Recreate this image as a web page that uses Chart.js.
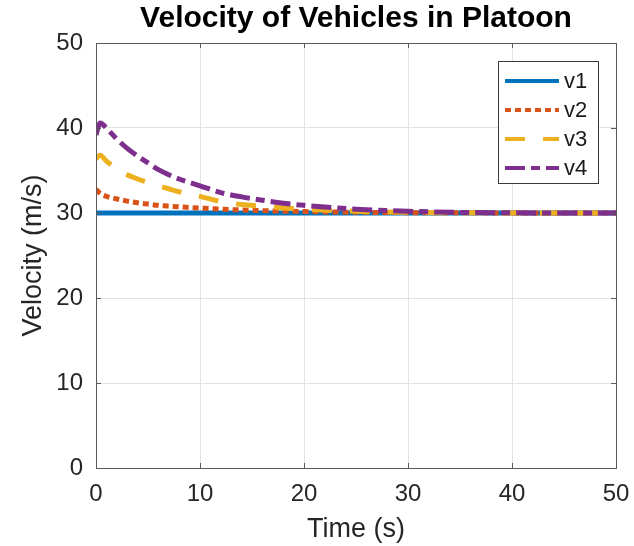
<!DOCTYPE html>
<html>
<head>
<meta charset="utf-8">
<script src="https://cdn.jsdelivr.net/npm/chart.js@4"></script>
<style>
  html, body { margin: 0; padding: 0; background: #fff; }
  #wrap { width: 634px; height: 546px; }
</style>
</head>
<body>
<div id="wrap"><canvas id="c" width="634" height="546"></canvas></div>
<script>
// ---- data ----
const time = [0, 0.4, 1, 2, 3, 4, 5, 6, 7, 8, 9, 10, 12, 14, 16, 18, 20, 22, 25, 28, 30, 35, 40, 45, 50];
const v1 = [30, 30, 30, 30, 30, 30, 30, 30, 30, 30, 30, 30, 30, 30, 30, 30, 30, 30, 30, 30, 30, 30, 30, 30, 30];
const v2 = [32.8, 32.3, 31.95, 31.65, 31.4, 31.2, 31.05, 30.9, 30.8, 30.72, 30.65, 30.58, 30.45, 30.36, 30.28, 30.22, 30.17, 30.13, 30.09, 30.06, 30.04, 30.02, 30.01, 30, 30];
const v3 = [36.4, 36.8, 36.1, 35.2, 34.5, 34.0, 33.6, 33.2, 32.85, 32.5, 32.2, 31.95, 31.35, 31.0, 30.8, 30.6, 30.45, 30.33, 30.2, 30.12, 30.08, 30.03, 30.01, 30, 30];
const v4 = [39.2, 40.6, 40.0, 38.7, 37.6, 36.7, 35.9, 35.1, 34.5, 34.0, 33.6, 33.2, 32.4, 31.9, 31.5, 31.15, 30.9, 30.7, 30.45, 30.28, 30.2, 30.07, 30.02, 30.01, 30];
const seriesNames = ['v1', 'v2', 'v3', 'v4'];
const xTicks = [0, 10, 20, 30, 40, 50];
const yTicks = [0, 10, 20, 30, 40, 50];
const titleText = 'Velocity of Vehicles in Platoon';
const xLabel = 'Time (s)';
const yLabel = 'Velocity (m/s)';

// ---- styles ----
const colors = ['#0072BD', '#D95319', '#EDB120', '#7E2F8E'];
const dashes = [[], [6, 4], [20, 18], [20, 6, 9, 6]];
const FONT = "'Liberation Sans', Arial, Helvetica, sans-serif";
const values = [v1, v2, v3, v4];

const datasets = values.map((vals, i) => ({
  label: seriesNames[i],
  data: time.map((t, k) => ({ x: t, y: vals[k] })),
  borderColor: colors[i],
  backgroundColor: colors[i],
  borderWidth: 5,
  borderDash: dashes[i],
  borderCapStyle: 'butt',
  pointRadius: 0,
  cubicInterpolationMode: 'monotone',
  fill: false,
  clip: 0,
  order: 4 - i
}));

const framePlugin = {
  id: 'frame',
  afterDatasetsDraw(chart) {
    const { ctx, chartArea: a, scales } = chart;
    ctx.save();
    ctx.strokeStyle = '#5a5a5a';
    ctx.lineWidth = 1;
    const tl = 5;
    ctx.beginPath();
    xTicks.forEach(v => {
      const px = Math.round(scales.x.getPixelForValue(v)) + 0.5;
      ctx.moveTo(px, a.bottom); ctx.lineTo(px, a.bottom - tl);
      ctx.moveTo(px, a.top); ctx.lineTo(px, a.top + tl);
    });
    yTicks.forEach(v => {
      const py = Math.round(scales.y.getPixelForValue(v)) + 0.5;
      ctx.moveTo(a.left, py); ctx.lineTo(a.left + tl, py);
      ctx.moveTo(a.right, py); ctx.lineTo(a.right - tl, py);
    });
    ctx.stroke();
    ctx.strokeRect(Math.round(a.left) + 0.5, Math.round(a.top) + 0.5,
                   Math.round(a.right - a.left), Math.round(a.bottom - a.top));
    ctx.restore();
  }
};

const legendPlugin = {
  id: 'boxLegend',
  afterDraw(chart) {
    const { ctx, chartArea: a } = chart;
    const bx = a.right - 118, by = a.top + 18, bw = 100, bh = 122;
    ctx.save();
    ctx.fillStyle = '#fff';
    ctx.fillRect(bx, by, bw, bh);
    ctx.strokeStyle = '#3a3a3a';
    ctx.lineWidth = 1;
    ctx.strokeRect(Math.round(bx) + 0.5, Math.round(by) + 0.5, bw, bh);
    chart.data.datasets.forEach((ds, i) => {
      const y = by + 20 + i * 29;
      ctx.beginPath();
      ctx.strokeStyle = ds.borderColor;
      ctx.lineWidth = 4;
      ctx.lineCap = 'butt';
      ctx.setLineDash(ds.borderDash);
      ctx.moveTo(bx + 7, y);
      ctx.lineTo(bx + 61, y);
      ctx.stroke();
      ctx.setLineDash([]);
      ctx.fillStyle = '#1a1a1a';
      ctx.font = '22px ' + FONT;
      ctx.textBaseline = 'middle';
      ctx.textAlign = 'left';
      ctx.fillText(ds.label, bx + 66, y + 1);
    });
    ctx.restore();
  }
};

new Chart(document.getElementById('c'), {
  type: 'line',
  data: { datasets },
  options: {
    responsive: false,
    animation: false,
    events: [],
    layout: { padding: { left: 0, right: 18, top: 0, bottom: 0 } },
    plugins: {
      legend: { display: false },
      tooltip: { enabled: false },
      title: {
        display: true,
        text: titleText,
        color: '#000',
        fullSize: false,
        font: { family: FONT, size: 30, weight: 'bold', lineHeight: 1.2 },
        padding: { top: 1, bottom: 6 }
      }
    },
    scales: {
      x: {
        type: 'linear',
        min: 0, max: 50,
        afterBuildTicks(s) { s.ticks = xTicks.map(v => ({ value: v })); },
        afterFit(s) { s.height = 78; s.paddingLeft = 0; s.paddingRight = 0; },
        ticks: { color: '#262626', font: { family: FONT, size: 24 }, padding: 12, maxRotation: 0 },
        grid: { color: '#e3e3e3', lineWidth: 1, drawTicks: false },
        border: { display: false },
        title: { display: true, text: xLabel, color: '#262626',
                 font: { family: FONT, size: 27, lineHeight: 1.2 }, padding: { top: 0, bottom: 0 } }
      },
      y: {
        type: 'linear',
        min: 0, max: 50,
        afterBuildTicks(s) { s.ticks = yTicks.map(v => ({ value: v })); },
        afterFit(s) { s.width = 96; s.paddingTop = 0; s.paddingBottom = 0; },
        ticks: { color: '#262626', font: { family: FONT, size: 24 }, padding: 13 },
        grid: { color: '#e3e3e3', lineWidth: 1, drawTicks: false },
        border: { display: false },
        title: { display: true, text: yLabel, color: '#262626',
                 font: { family: FONT, size: 27, lineHeight: 1.2 }, padding: { top: 17, bottom: 0 } }
      }
    }
  },
  plugins: [framePlugin, legendPlugin]
});
</script>
</body>
</html>
